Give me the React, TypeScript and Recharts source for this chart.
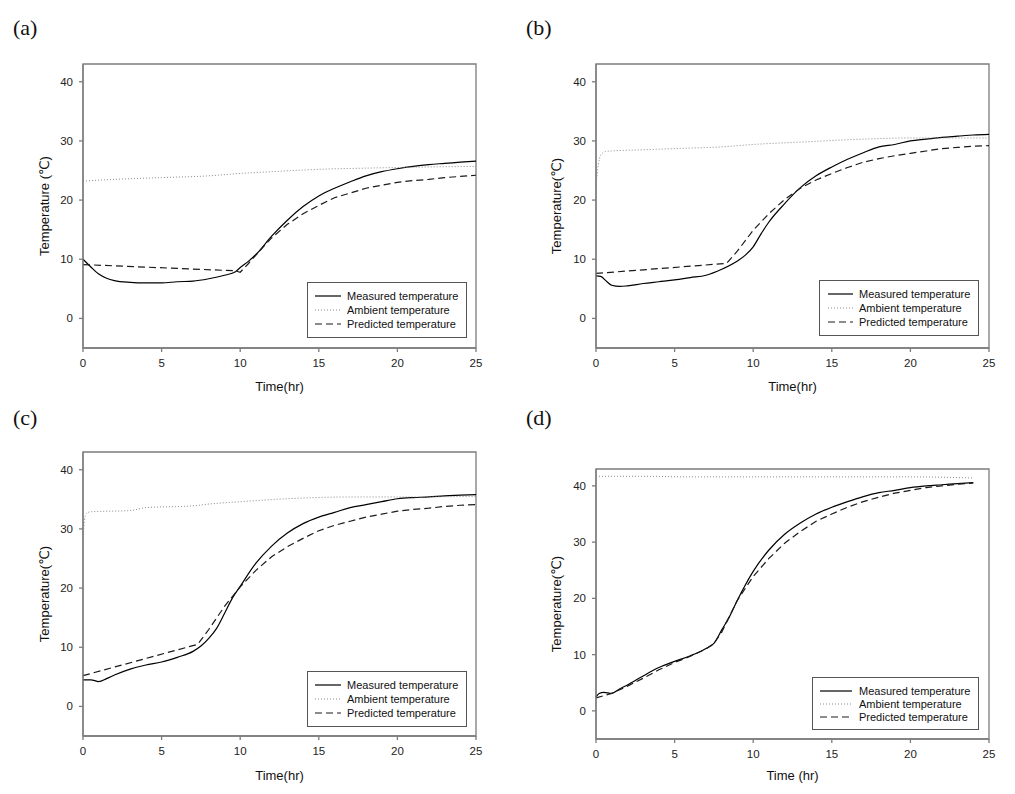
import React from "react";
import { LineChart, Line, XAxis, YAxis, ReferenceArea, Legend } from "recharts";

// ---------- data ----------
const X_TICKS = [0, 5, 10, 15, 20, 25];
const Y_TICKS = [0, 10, 20, 30, 40];
const SERIES_NAMES = ["Measured temperature", "Ambient temperature", "Predicted temperature"];
const PANEL_TAGS = ["(a)", "(b)", "(c)", "(d)"];
const Y_TITLES = ["Temperature (\u2103)", "Temperature(\u2103)", "Temperature(\u2103)", "Temperature(\u2103)"];
const X_TITLES = ["Time(hr)", "Time(hr)", "Time(hr)", "Time (hr)"];

// (a)
const aMeasT = [0, 0.5, 1, 1.5, 2, 3, 4, 5, 6, 7, 8, 9, 9.7, 10, 10.5, 11, 12, 13, 14, 15, 16, 17, 18, 19, 20, 21, 22, 23, 24, 25];
const aMeasV = [10, 8.7, 7.5, 6.8, 6.4, 6.1, 6.0, 6.0, 6.2, 6.3, 6.7, 7.3, 7.9, 8.6, 9.6, 10.8, 13.9, 16.6, 18.9, 20.7, 22.0, 23.1, 24.1, 24.8, 25.3, 25.7, 26.0, 26.2, 26.4, 26.6];
const aAmbT = [0, 2, 5, 8, 10, 12, 15, 18, 20, 22, 25];
const aAmbV = [23.2, 23.5, 23.8, 24.1, 24.5, 24.8, 25.2, 25.4, 25.5, 25.6, 25.7];
const aPredT = [0, 9.7, 10, 10.5, 11, 11.5, 12, 13, 14, 15, 16, 17, 18, 19, 20, 21, 22, 23, 24, 25];
const aPredV = [9.1, 8.05, 7.8, 9.2, 10.7, 12.2, 13.6, 15.9, 17.7, 19.1, 20.4, 21.2, 22.0, 22.5, 23.0, 23.3, 23.5, 23.8, 24.0, 24.2];

// (b)
const bMeasT = [0, 0.3, 0.7, 1, 1.5, 2, 3, 4, 5, 6, 7, 8, 9, 9.5, 10, 10.5, 11, 12, 13, 14, 15, 16, 17, 18, 19, 20, 21, 22, 23, 24, 25];
const bMeasV = [7.2, 7.1, 6.2, 5.6, 5.4, 5.5, 5.9, 6.2, 6.5, 6.9, 7.3, 8.3, 9.7, 10.7, 12.1, 14.3, 16.3, 19.4, 22.1, 24.1, 25.6, 26.9, 28.0, 29.0, 29.4, 30.0, 30.3, 30.6, 30.8, 31.0, 31.1];
const bAmbT = [0, 0.15, 0.3, 0.6, 1, 3, 5, 8, 10, 13, 17, 20, 25];
const bAmbV = [22.5, 26.0, 27.6, 28.2, 28.3, 28.5, 28.7, 29.0, 29.4, 29.8, 30.3, 30.5, 30.5];
const bPredT = [0, 8.3, 9, 10, 11, 12, 13, 14, 15, 16, 17, 18, 19, 20, 21, 22, 23, 24, 25];
const bPredV = [7.6, 9.3, 11.4, 14.9, 17.7, 20.1, 22.0, 23.4, 24.5, 25.5, 26.4, 27.0, 27.5, 27.9, 28.3, 28.7, 28.9, 29.1, 29.2];

// (c)
const cMeasT = [0, 0.5, 1, 1.5, 2, 3, 4, 5, 6, 7, 7.5, 8, 8.5, 9, 9.5, 10, 11, 12, 13, 14, 15, 16, 17, 18, 19, 20, 21, 22, 23, 24, 25];
const cMeasV = [4.5, 4.5, 4.2, 4.7, 5.3, 6.3, 7.0, 7.5, 8.3, 9.3, 10.2, 11.5, 13.2, 15.7, 18.3, 20.3, 24.2, 27.1, 29.3, 30.9, 32.0, 32.8, 33.6, 34.1, 34.6, 35.1, 35.3, 35.4, 35.6, 35.7, 35.8];
const cAmbT = [0, 0.1, 0.2, 0.5, 3, 4, 7, 8, 10, 13, 17, 20, 25];
const cAmbV = [28.5, 31.5, 32.6, 32.9, 33.1, 33.6, 33.9, 34.2, 34.6, 35.1, 35.4, 35.4, 35.5];
const cPredT = [0, 7.3, 8, 9, 10, 11, 12, 13, 14, 15, 16, 17, 18, 19, 20, 21, 22, 23, 24, 25];
const cPredV = [5.2, 10.5, 13.0, 16.9, 20.2, 23.0, 25.3, 27.0, 28.4, 29.7, 30.6, 31.3, 32.0, 32.5, 33.0, 33.3, 33.5, 33.8, 34.0, 34.1];

// (d)
const dMeasT = [0, 0.2, 0.5, 1, 1.5, 2, 3, 4, 5, 6, 7, 7.5, 8, 8.5, 9, 10, 11, 12, 13, 14, 15, 16, 17, 18, 19, 20, 21, 22, 23, 24];
const dMeasV = [2.5, 3.1, 3.3, 3.1, 3.9, 4.6, 6.2, 7.7, 8.8, 9.8, 11.1, 12.0, 14.4, 16.8, 19.7, 24.8, 28.6, 31.4, 33.4, 35.0, 36.2, 37.2, 38.1, 38.8, 39.2, 39.7, 40.0, 40.2, 40.4, 40.6];
const dAmbT = [0, 3, 6, 10, 15, 20, 24];
const dAmbV = [41.7, 41.7, 41.6, 41.6, 41.6, 41.6, 41.4];
const dPredT = [0, 1, 2, 3, 4, 5, 6, 7, 7.5, 8, 9, 10, 11, 12, 13, 14, 15, 16, 17, 18, 19, 20, 21, 22, 23, 24];
const dPredV = [2.3, 3.1, 4.4, 5.8, 7.3, 8.6, 9.7, 11.0, 12.0, 14.0, 19.7, 23.9, 27.1, 29.8, 31.9, 33.7, 35.0, 36.2, 37.2, 38.0, 38.7, 39.2, 39.7, 40.0, 40.3, 40.5];

const zip = (ts: number[], vs: number[]) => ts.map((t, i) => ({ t, v: vs[i] }));

// ---------- styles / layout ----------
const FONT = "'Liberation Sans', Arial, 'DejaVu Sans', sans-serif";
const FRAME = "#7c7c7c";
const STYLES = [
  { stroke: "#000", dash: undefined as string | undefined, width: 1.2, type: "monotone" as const },
  { stroke: "#8a8a8a", dash: "1 2", width: 1, type: "monotone" as const },
  { stroke: "#1a1a1a", dash: "7 4", width: 1.2, type: "linear" as const },
];

const PANELS = [
  {
    left: 0, top: 0, w: 500, h: 395, margin: { top: 64, right: 24, bottom: 4, left: 5 }, yw: 78, xh: 43,
    legend: { left: 307, top: 282, w: 160, h: 56, rows: [14, 28, 42], lx: 8, lw: 26, tx: 40 },
    series: [zip(aMeasT, aMeasV), zip(aAmbT, aAmbV), zip(aPredT, aPredV)],
    tag: { x: 13, y: 36 },
  },
  {
    left: 510, top: 0, w: 500, h: 395, margin: { top: 64, right: 21, bottom: 4, left: 6 }, yw: 80, xh: 43,
    legend: { left: 309, top: 280, w: 160, h: 56, rows: [14, 28, 42], lx: 9, lw: 25, tx: 40 },
    series: [zip(bMeasT, bMeasV), zip(bAmbT, bAmbV), zip(bPredT, bPredV)],
    tag: { x: 526, y: 36 },
  },
  {
    left: 0, top: 390, w: 500, h: 394, margin: { top: 62, right: 24, bottom: 4, left: 5 }, yw: 78, xh: 44,
    legend: { left: 307, top: 281, w: 160, h: 56, rows: [14, 28, 42], lx: 8, lw: 26, tx: 40 },
    series: [zip(cMeasT, cMeasV), zip(cAmbT, cAmbV), zip(cPredT, cPredV)],
    tag: { x: 13, y: 426 },
  },
  {
    left: 510, top: 390, w: 500, h: 394, margin: { top: 79, right: 21, bottom: 4, left: 6 }, yw: 80, xh: 41,
    legend: { left: 302, top: 287, w: 167, h: 53, rows: [14, 27, 40], lx: 8, lw: 32, tx: 47 },
    series: [zip(dMeasT, dMeasV), zip(dAmbT, dAmbV), zip(dPredT, dPredV)],
    tag: { x: 526, y: 426 },
  },
];

type LegendCfg = { left: number; top: number; w: number; h: number; rows: number[]; lx: number; lw: number; tx: number };

const LegendBox = ({ cfg }: { cfg: LegendCfg }) => (
  <div
    style={{
      width: cfg.w,
      height: cfg.h,
      boxSizing: "border-box",
      border: "1.5px solid #555",
      background: "#fff",
      position: "relative",
      fontFamily: FONT,
    }}
  >
    <svg width={cfg.w} height={cfg.h} style={{ position: "absolute", left: -1.5, top: -1.5 }}>
      {SERIES_NAMES.map((name, i) => (
        <g key={name}>
          <line
            x1={cfg.lx}
            x2={cfg.lx + cfg.lw}
            y1={cfg.rows[i]}
            y2={cfg.rows[i]}
            stroke={STYLES[i].stroke}
            strokeWidth={STYLES[i].width}
            strokeDasharray={STYLES[i].dash}
          />
          <text x={cfg.tx} y={cfg.rows[i]} dy="0.36em" fontSize={11} fill="#111" fontFamily={FONT}>
            {name}
          </text>
        </g>
      ))}
    </svg>
  </div>
);

const Panel = ({ p, idx }: { p: (typeof PANELS)[number]; idx: number }) => (
  <div style={{ position: "absolute", left: p.left, top: p.top, width: p.w, height: p.h }}>
    <LineChart width={p.w} height={p.h} margin={p.margin} style={{ fontFamily: FONT }}>
      <XAxis
        dataKey="t"
        type="number"
        domain={[0, 25]}
        ticks={X_TICKS}
        height={p.xh}
        tickSize={4}
        tickMargin={7}
        stroke={FRAME}
        strokeWidth={1.3}
        tick={{ fontSize: 11.5, fill: "#222", fontFamily: FONT }}
        label={{ value: X_TITLES[idx], position: "insideBottom", offset: 0, style: { fontSize: 13, fill: "#111", fontFamily: FONT } }}
      />
      <YAxis
        type="number"
        domain={[-5, 43]}
        ticks={Y_TICKS}
        width={p.yw}
        tickSize={4}
        tickMargin={6}
        stroke={FRAME}
        strokeWidth={1.3}
        tick={{ fontSize: 11.5, fill: "#222", fontFamily: FONT }}
        label={{ value: Y_TITLES[idx], angle: -90, position: "center", style: { fontSize: 13, fill: "#111", fontFamily: FONT } }}
      />
      <ReferenceArea x1={0} x2={25} y1={-5} y2={43} fill="none" fillOpacity={0} stroke={FRAME} strokeWidth={1.3} />
      {p.series.map((data, i) => (
        <Line
          key={SERIES_NAMES[i]}
          data={data}
          dataKey="v"
          name={SERIES_NAMES[i]}
          type={STYLES[i].type}
          stroke={STYLES[i].stroke}
          strokeWidth={STYLES[i].width}
          strokeDasharray={STYLES[i].dash}
          dot={false}
          activeDot={false}
          isAnimationActive={false}
        />
      ))}
      <Legend
        layout="vertical"
        align="center"
        verticalAlign="middle"
        wrapperStyle={{ left: p.legend.left, top: p.legend.top, width: p.legend.w, height: p.legend.h }}
        content={() => <LegendBox cfg={p.legend} />}
      />
    </LineChart>
  </div>
);

export default function App() {
  return (
    <div style={{ position: "absolute", left: 0, top: 0, width: 1015, height: 794, background: "#fff" }}>
      {PANELS.map((p, i) => (
        <Panel key={i} p={p} idx={i} />
      ))}
      {PANELS.map((p, i) => (
        <div
          key={"tag" + i}
          style={{
            position: "absolute",
            left: p.tag.x,
            top: p.tag.y - 19,
            fontFamily: "'Liberation Serif', 'Times New Roman', serif",
            fontSize: 22,
            lineHeight: "22px",
            color: "#111",
          }}
        >
          {PANEL_TAGS[i]}
        </div>
      ))}
    </div>
  );
}
